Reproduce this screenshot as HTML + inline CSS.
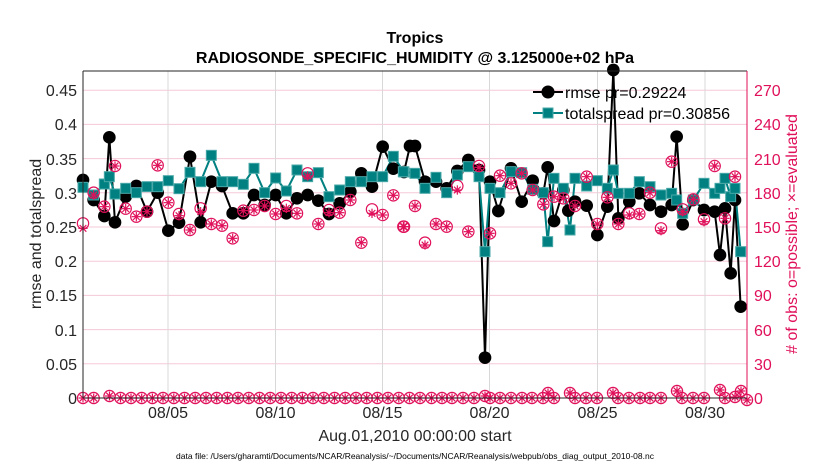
<!DOCTYPE html>
<html><head><meta charset="utf-8"><style>
body{margin:0;background:#fff;}
svg{display:block;font-family:"Liberation Sans",sans-serif;}
</style></head><body>
<svg width="830" height="470" viewBox="0 0 830 470" xmlns="http://www.w3.org/2000/svg">
<defs>
<g id="pc"><circle r="17" fill="none" stroke="#e0105a" stroke-width="3.5"/></g>
<g id="ps"><g stroke="#e0105a" stroke-width="3.5"><line x1="-14" y1="0" x2="14" y2="0"/><line x1="0" y1="-14" x2="0" y2="14"/><line x1="-10" y1="-10" x2="10" y2="10"/><line x1="-10" y1="10" x2="10" y2="-10"/></g></g>
<g id="bc"><circle r="19" fill="#000"/></g>
<g id="ts"><rect x="-15" y="-15" width="30" height="30" fill="#008080" stroke="#4aa8a8" stroke-width="3"/></g>
<g id="z"><circle r="5.6" fill="none" stroke="#e0105a" stroke-width="1.2"/><g stroke="#e0105a" stroke-width="1.2"><line x1="-4.5" y1="0" x2="4.5" y2="0"/><line x1="0" y1="-4.5" x2="0" y2="4.5"/><line x1="-3.3" y1="-3.3" x2="3.3" y2="3.3"/><line x1="-3.3" y1="3.3" x2="3.3" y2="-3.3"/></g></g>
</defs>
<rect x="83" y="71" width="664" height="327" fill="#fff"/>
<g stroke="#f5c8d8" stroke-width="1">
<line x1="83" y1="363.8" x2="747" y2="363.8"/><line x1="83" y1="329.6" x2="747" y2="329.6"/><line x1="83" y1="295.4" x2="747" y2="295.4"/><line x1="83" y1="261.2" x2="747" y2="261.2"/><line x1="83" y1="227" x2="747" y2="227"/><line x1="83" y1="192.8" x2="747" y2="192.8"/><line x1="83" y1="158.6" x2="747" y2="158.6"/><line x1="83" y1="124.4" x2="747" y2="124.4"/><line x1="83" y1="90.2" x2="747" y2="90.2"/>
</g>
<g stroke="#d8d8d8" stroke-width="1">
<line x1="168" y1="71" x2="168" y2="398"/><line x1="275.5" y1="71" x2="275.5" y2="398"/><line x1="382.5" y1="71" x2="382.5" y2="398"/><line x1="489.5" y1="71" x2="489.5" y2="398"/><line x1="597.5" y1="71" x2="597.5" y2="398"/><line x1="705" y1="71" x2="705" y2="398"/>
</g>
<g transform="translate(70,60) scale(0.33333)">
<polyline fill="none" stroke="#000" stroke-width="6" points="39,360 71,420 103,468 118,232 135,487 167,410 199,378 231,455 263,398 295,512 327,488 360,290 392,487 424,365 456,378 488,460 520,460 552,405 584,435 617,405 649,460 681,415 713,405 745,422 777,462 809,430 841,395 874,340 906,380 938,260 970,326 1002,336 1020,258"/>
<polyline fill="none" stroke="#008080" stroke-width="6" points="39,382 71,405 103,372 118,350 135,402 167,385 199,398 231,380 263,380 295,362 327,386 360,337 392,365 424,286 456,365 488,365 520,373 552,325 584,398 617,354 649,393 681,330 713,350 745,338 777,410 809,390 841,365 874,365 906,350 938,350 970,289 1002,336 1030,335"/>
<use href="#bc" x="39" y="360"/><use href="#bc" x="71" y="420"/><use href="#bc" x="103" y="468"/><use href="#bc" x="118" y="232"/><use href="#bc" x="135" y="487"/><use href="#bc" x="167" y="410"/><use href="#bc" x="199" y="378"/><use href="#bc" x="231" y="455"/><use href="#bc" x="263" y="398"/><use href="#bc" x="295" y="512"/><use href="#bc" x="327" y="488"/><use href="#bc" x="360" y="290"/><use href="#bc" x="392" y="487"/><use href="#bc" x="424" y="365"/><use href="#bc" x="456" y="378"/><use href="#bc" x="488" y="460"/><use href="#bc" x="520" y="460"/><use href="#bc" x="552" y="405"/><use href="#bc" x="584" y="435"/><use href="#bc" x="617" y="405"/><use href="#bc" x="649" y="460"/><use href="#bc" x="681" y="415"/><use href="#bc" x="713" y="405"/><use href="#bc" x="745" y="422"/><use href="#bc" x="777" y="462"/><use href="#bc" x="809" y="430"/><use href="#bc" x="841" y="395"/><use href="#bc" x="874" y="340"/><use href="#bc" x="906" y="380"/><use href="#bc" x="938" y="260"/><use href="#bc" x="970" y="326"/><use href="#bc" x="1002" y="336"/><use href="#bc" x="1020" y="258"/>
<use href="#ts" x="39" y="382"/><use href="#ts" x="71" y="405"/><use href="#ts" x="103" y="372"/><use href="#ts" x="118" y="350"/><use href="#ts" x="135" y="402"/><use href="#ts" x="167" y="385"/><use href="#ts" x="199" y="398"/><use href="#ts" x="231" y="380"/><use href="#ts" x="263" y="380"/><use href="#ts" x="295" y="362"/><use href="#ts" x="327" y="386"/><use href="#ts" x="360" y="337"/><use href="#ts" x="392" y="365"/><use href="#ts" x="424" y="286"/><use href="#ts" x="456" y="365"/><use href="#ts" x="488" y="365"/><use href="#ts" x="520" y="373"/><use href="#ts" x="552" y="325"/><use href="#ts" x="584" y="398"/><use href="#ts" x="617" y="354"/><use href="#ts" x="649" y="393"/><use href="#ts" x="681" y="330"/><use href="#ts" x="713" y="350"/><use href="#ts" x="745" y="338"/><use href="#ts" x="777" y="410"/><use href="#ts" x="809" y="390"/><use href="#ts" x="841" y="365"/><use href="#ts" x="874" y="365"/><use href="#ts" x="906" y="350"/><use href="#ts" x="938" y="350"/><use href="#ts" x="970" y="289"/><use href="#ts" x="1002" y="336"/>
<use href="#pc" x="39" y="490"/><use href="#ps" x="39" y="505"/>
<use href="#pc" x="71" y="398"/><use href="#ps" x="71" y="405"/>
<use href="#pc" x="103" y="440"/><use href="#ps" x="103" y="440"/>
<use href="#pc" x="135" y="318"/><use href="#ps" x="135" y="318"/>
<use href="#pc" x="167" y="446"/><use href="#ps" x="167" y="446"/>
<use href="#pc" x="199" y="470"/><use href="#ps" x="199" y="470"/>
<use href="#pc" x="231" y="455"/><use href="#ps" x="231" y="455"/>
<use href="#pc" x="263" y="316"/><use href="#ps" x="263" y="316"/>
<use href="#pc" x="295" y="428"/><use href="#ps" x="295" y="428"/>
<use href="#pc" x="327" y="462"/><use href="#ps" x="327" y="467"/>
<use href="#pc" x="360" y="510"/><use href="#ps" x="360" y="510"/>
<use href="#pc" x="392" y="445"/><use href="#ps" x="392" y="455"/>
<use href="#pc" x="424" y="492"/><use href="#ps" x="424" y="492"/>
<use href="#pc" x="456" y="497"/><use href="#ps" x="456" y="497"/>
<use href="#pc" x="488" y="535"/><use href="#ps" x="488" y="535"/>
<use href="#pc" x="520" y="452"/><use href="#ps" x="520" y="452"/>
<use href="#pc" x="552" y="450"/><use href="#ps" x="552" y="450"/>
<use href="#pc" x="584" y="438"/><use href="#ps" x="584" y="438"/>
<use href="#pc" x="617" y="462"/><use href="#ps" x="617" y="462"/>
<use href="#pc" x="649" y="438"/><use href="#ps" x="649" y="445"/>
<use href="#pc" x="681" y="460"/><use href="#ps" x="681" y="460"/>
<use href="#pc" x="713" y="340"/><use href="#ps" x="713" y="348"/>
<use href="#pc" x="745" y="492"/><use href="#ps" x="745" y="492"/>
<use href="#pc" x="777" y="450"/><use href="#ps" x="777" y="458"/>
<use href="#pc" x="809" y="458"/><use href="#ps" x="809" y="458"/>
<use href="#pc" x="841" y="420"/><use href="#ps" x="841" y="420"/>
<use href="#pc" x="874" y="548"/><use href="#ps" x="874" y="548"/>
<use href="#pc" x="906" y="448"/><use href="#ps" x="906" y="460"/>
<use href="#pc" x="938" y="465"/><use href="#ps" x="938" y="465"/>
<use href="#pc" x="970" y="406"/><use href="#ps" x="970" y="406"/>
<use href="#pc" x="1002" y="500"/><use href="#ps" x="1002" y="500"/>
</g>
<g transform="translate(400,60) scale(0.33333)">
<polyline fill="none" stroke="#000" stroke-width="6" points="30,258 45,258 75,365 108,365 140,385 172,333 205,300 237,330 255,893 270,365 295,453 333,325 365,425 398,362 430,400 443,322 462,483 490,390 505,452 525,425 560,437 592,525 622,440 640,30 655,475 688,425 718,400 750,435 783,455 815,435 830,230 848,493 880,420 912,450 944,455 960,585 975,445 992,640 1005,420 1022,740"/>
<polyline fill="none" stroke="#008080" stroke-width="6" points="10,335 45,340 75,385 108,352 140,398 172,345 205,320 237,350 255,575 270,385 300,398 333,335 365,338 398,388 430,398 443,545 462,355 490,385 510,510 525,355 560,378 592,362 622,385 640,330 655,400 688,400 718,365 750,380 783,405 815,400 830,420 848,460 880,420 912,370 944,400 960,385 975,355 992,410 1005,385 1022,575"/>
<use href="#bc" x="45" y="258"/><use href="#bc" x="75" y="365"/><use href="#bc" x="108" y="365"/><use href="#bc" x="140" y="385"/><use href="#bc" x="172" y="333"/><use href="#bc" x="205" y="300"/><use href="#bc" x="237" y="330"/><use href="#bc" x="255" y="893"/><use href="#bc" x="270" y="365"/><use href="#bc" x="295" y="453"/><use href="#bc" x="333" y="325"/><use href="#bc" x="365" y="425"/><use href="#bc" x="398" y="362"/><use href="#bc" x="430" y="400"/><use href="#bc" x="443" y="322"/><use href="#bc" x="462" y="483"/><use href="#bc" x="490" y="390"/><use href="#bc" x="505" y="452"/><use href="#bc" x="525" y="425"/><use href="#bc" x="560" y="437"/><use href="#bc" x="592" y="525"/><use href="#bc" x="622" y="440"/><use href="#bc" x="640" y="30"/><use href="#bc" x="655" y="475"/><use href="#bc" x="688" y="425"/><use href="#bc" x="718" y="400"/><use href="#bc" x="750" y="435"/><use href="#bc" x="783" y="455"/><use href="#bc" x="815" y="435"/><use href="#bc" x="830" y="230"/><use href="#bc" x="848" y="493"/><use href="#bc" x="880" y="420"/><use href="#bc" x="912" y="450"/><use href="#bc" x="944" y="455"/><use href="#bc" x="960" y="585"/><use href="#bc" x="975" y="445"/><use href="#bc" x="992" y="640"/><use href="#bc" x="1005" y="420"/><use href="#bc" x="1022" y="740"/>
<use href="#ts" x="10" y="335"/><use href="#ts" x="45" y="340"/><use href="#ts" x="75" y="385"/><use href="#ts" x="108" y="352"/><use href="#ts" x="140" y="398"/><use href="#ts" x="172" y="345"/><use href="#ts" x="205" y="320"/><use href="#ts" x="237" y="350"/><use href="#ts" x="255" y="575"/><use href="#ts" x="270" y="385"/><use href="#ts" x="300" y="398"/><use href="#ts" x="333" y="335"/><use href="#ts" x="365" y="338"/><use href="#ts" x="398" y="388"/><use href="#ts" x="430" y="398"/><use href="#ts" x="443" y="545"/><use href="#ts" x="462" y="355"/><use href="#ts" x="490" y="385"/><use href="#ts" x="510" y="510"/><use href="#ts" x="525" y="355"/><use href="#ts" x="560" y="378"/><use href="#ts" x="592" y="362"/><use href="#ts" x="622" y="385"/><use href="#ts" x="640" y="330"/><use href="#ts" x="655" y="400"/><use href="#ts" x="688" y="400"/><use href="#ts" x="718" y="365"/><use href="#ts" x="750" y="380"/><use href="#ts" x="783" y="405"/><use href="#ts" x="815" y="400"/><use href="#ts" x="830" y="420"/><use href="#ts" x="848" y="460"/><use href="#ts" x="880" y="420"/><use href="#ts" x="912" y="370"/><use href="#ts" x="944" y="400"/><use href="#ts" x="960" y="385"/><use href="#ts" x="975" y="355"/><use href="#ts" x="992" y="410"/><use href="#ts" x="1005" y="385"/><use href="#ts" x="1022" y="575"/>
<use href="#pc" x="10" y="500"/><use href="#ps" x="10" y="500"/>
<use href="#pc" x="45" y="438"/><use href="#ps" x="45" y="438"/>
<use href="#pc" x="75" y="548"/><use href="#ps" x="75" y="555"/>
<use href="#pc" x="108" y="492"/><use href="#ps" x="108" y="492"/>
<use href="#pc" x="140" y="500"/><use href="#ps" x="140" y="500"/>
<use href="#pc" x="172" y="378"/><use href="#ps" x="172" y="390"/>
<use href="#pc" x="205" y="515"/><use href="#ps" x="205" y="515"/>
<use href="#pc" x="237" y="318"/><use href="#ps" x="237" y="322"/>
<use href="#pc" x="270" y="520"/><use href="#ps" x="270" y="520"/>
<use href="#pc" x="300" y="347"/><use href="#ps" x="300" y="347"/>
<use href="#pc" x="333" y="370"/><use href="#ps" x="333" y="370"/>
<use href="#pc" x="365" y="340"/><use href="#ps" x="365" y="340"/>
<use href="#pc" x="398" y="390"/><use href="#ps" x="398" y="390"/>
<use href="#pc" x="430" y="433"/><use href="#ps" x="430" y="433"/>
<use href="#pc" x="462" y="410"/><use href="#ps" x="462" y="410"/>
<use href="#pc" x="490" y="415"/><use href="#ps" x="490" y="415"/>
<use href="#pc" x="525" y="438"/><use href="#ps" x="525" y="438"/>
<use href="#pc" x="560" y="350"/><use href="#ps" x="560" y="350"/>
<use href="#pc" x="592" y="492"/><use href="#ps" x="592" y="492"/>
<use href="#pc" x="622" y="412"/><use href="#ps" x="622" y="412"/>
<use href="#pc" x="655" y="492"/><use href="#ps" x="655" y="492"/>
<use href="#pc" x="688" y="460"/><use href="#ps" x="688" y="465"/>
<use href="#pc" x="718" y="462"/><use href="#ps" x="718" y="462"/>
<use href="#pc" x="750" y="398"/><use href="#ps" x="750" y="398"/>
<use href="#pc" x="783" y="505"/><use href="#ps" x="783" y="512"/>
<use href="#pc" x="815" y="305"/><use href="#ps" x="815" y="305"/>
<use href="#pc" x="848" y="448"/><use href="#ps" x="848" y="455"/>
<use href="#pc" x="880" y="418"/><use href="#ps" x="880" y="418"/>
<use href="#pc" x="912" y="478"/><use href="#ps" x="912" y="485"/>
<use href="#pc" x="944" y="318"/><use href="#ps" x="944" y="318"/>
<use href="#pc" x="975" y="475"/><use href="#ps" x="975" y="475"/>
<use href="#pc" x="1005" y="350"/><use href="#ps" x="1005" y="350"/>
</g>
<g>
<use href="#z" x="83" y="398"/><use href="#z" x="93.7" y="398"/><use href="#z" x="109.5" y="396"/><use href="#z" x="120.5" y="398"/><use href="#z" x="131" y="398"/><use href="#z" x="141.7" y="398"/><use href="#z" x="152.4" y="398"/><use href="#z" x="163" y="398"/><use href="#z" x="173.8" y="398"/><use href="#z" x="184.5" y="398"/><use href="#z" x="195.2" y="398"/><use href="#z" x="206" y="398"/><use href="#z" x="216.7" y="398"/><use href="#z" x="227.4" y="398"/><use href="#z" x="238" y="398"/><use href="#z" x="248.8" y="398"/><use href="#z" x="259.5" y="398"/><use href="#z" x="270.2" y="398"/><use href="#z" x="281" y="398"/><use href="#z" x="291.7" y="398"/><use href="#z" x="302.4" y="398"/><use href="#z" x="313" y="398"/><use href="#z" x="323.8" y="398"/><use href="#z" x="334.5" y="398"/><use href="#z" x="345.2" y="398"/><use href="#z" x="356" y="398"/><use href="#z" x="366.7" y="398"/><use href="#z" x="377.4" y="398"/><use href="#z" x="388" y="398"/><use href="#z" x="398.8" y="398"/><use href="#z" x="409.5" y="398"/><use href="#z" x="420" y="398"/><use href="#z" x="431.5" y="398"/><use href="#z" x="442" y="398"/><use href="#z" x="452" y="398"/><use href="#z" x="463" y="398"/><use href="#z" x="474" y="398"/><use href="#z" x="485" y="396"/><use href="#z" x="490" y="398"/><use href="#z" x="500" y="398"/><use href="#z" x="511" y="398"/><use href="#z" x="522" y="398"/><use href="#z" x="532" y="398"/><use href="#z" x="543" y="398"/><use href="#z" x="548" y="393"/><use href="#z" x="554" y="398"/><use href="#z" x="570" y="393"/><use href="#z" x="575" y="398"/><use href="#z" x="586" y="398"/><use href="#z" x="597" y="398"/><use href="#z" x="613" y="393"/><use href="#z" x="618" y="398"/><use href="#z" x="629" y="398"/><use href="#z" x="640" y="398"/><use href="#z" x="650" y="398"/><use href="#z" x="661" y="398"/><use href="#z" x="677" y="391"/><use href="#z" x="682" y="398"/><use href="#z" x="693" y="398"/><use href="#z" x="704" y="398"/><use href="#z" x="720" y="390"/><use href="#z" x="725" y="398"/><use href="#z" x="735" y="397"/><use href="#z" x="741" y="391"/><use href="#z" x="747" y="400"/>
</g>
<line x1="83" y1="71" x2="747" y2="71" stroke="#262626" stroke-width="1"/>
<line x1="83" y1="398" x2="747" y2="398" stroke="#262626" stroke-width="1"/>
<line x1="83" y1="71" x2="83" y2="398" stroke="#262626" stroke-width="1"/>
<line x1="747" y1="71" x2="747" y2="398" stroke="#e0105a" stroke-width="1"/>
<g font-size="16" fill="#262626" text-anchor="end">
<text x="77" y="404">0</text><text x="77" y="370">0.05</text><text x="77" y="336">0.1</text><text x="77" y="301">0.15</text><text x="77" y="267">0.2</text><text x="77" y="233">0.25</text><text x="77" y="199">0.3</text><text x="77" y="165">0.35</text><text x="77" y="130">0.4</text><text x="77" y="96">0.45</text>
</g>
<g font-size="16" fill="#e0105a">
<text x="754" y="404">0</text><text x="754" y="370">30</text><text x="754" y="336">60</text><text x="754" y="301">90</text><text x="754" y="267">120</text><text x="754" y="233">150</text><text x="754" y="199">180</text><text x="754" y="165">210</text><text x="754" y="130">240</text><text x="754" y="96">270</text>
</g>
<g font-size="16" fill="#262626" text-anchor="middle">
<text x="168" y="418">08/05</text><text x="275.5" y="418">08/10</text><text x="382.5" y="418">08/15</text><text x="489.5" y="418">08/20</text><text x="597.5" y="418">08/25</text><text x="705" y="418">08/30</text>
<text x="415" y="441">Aug.01,2010 00:00:00 start</text>
</g>
<text x="415" y="459" font-size="8.5" fill="#000" text-anchor="middle">data file: /Users/gharamti/Documents/NCAR/Reanalysis/~/Documents/NCAR/Reanalysis/webpub/obs_diag_output_2010-08.nc</text>
<g font-weight="bold" font-size="16" fill="#000" text-anchor="middle">
<text x="415" y="43">Tropics</text>
<text x="415" y="63">RADIOSONDE_SPECIFIC_HUMIDITY @ 3.125000e+02 hPa</text>
</g>
<text transform="translate(41,234) rotate(-90)" font-size="16" fill="#262626" text-anchor="middle">rmse and totalspread</text>
<text transform="translate(797,234) rotate(-90)" font-size="16" fill="#e0105a" text-anchor="middle"># of obs: o=possible; ×=evaluated</text>
<g font-size="16" fill="#000">
<line x1="533" y1="92" x2="563" y2="92" stroke="#000" stroke-width="2"/><circle cx="548" cy="92" r="6.5" fill="#000"/>
<text x="565" y="98">rmse pr=0.29224</text>
<line x1="533" y1="113" x2="563" y2="113" stroke="#008080" stroke-width="2"/><rect x="543" y="108" width="10" height="10" fill="#008080" stroke="#4aa8a8"/>
<text x="565" y="119">totalspread pr=0.30856</text>
</g>
</svg>
</body></html>
